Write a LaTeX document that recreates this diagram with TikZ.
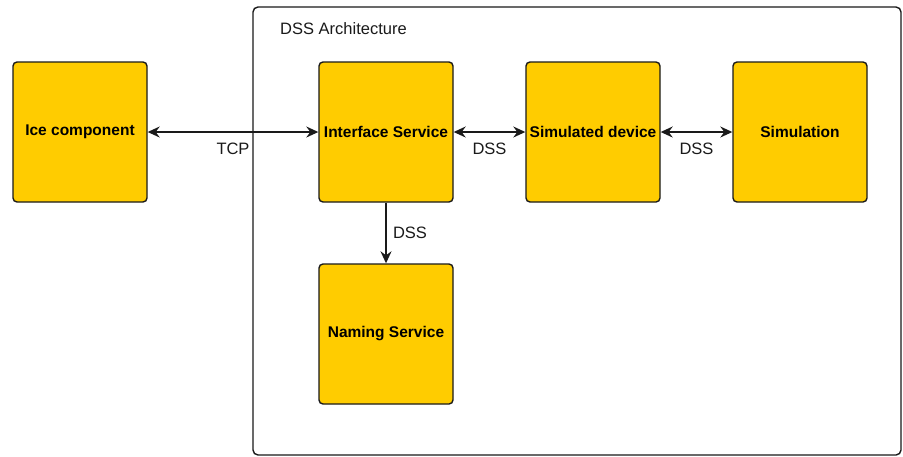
\documentclass[tikz,border=0pt]{standalone}
\usepackage{fontspec}
\setmainfont{Liberation Sans}
\usetikzlibrary{arrows.meta}
\definecolor{boxfill}{HTML}{FFCC00}
\definecolor{edge}{HTML}{1A1A1A}
\begin{document}
\begin{tikzpicture}[x=1pt,y=-1pt,
  comp/.style={draw=edge,line width=1.4pt,fill=boxfill,rounded corners=4pt,minimum width=134pt,minimum height=140pt,inner sep=0pt,font=\fontsize{15.5}{18}\selectfont\bfseries},
  conn/.style={draw=edge,line width=1.4pt,{Stealth[length=12pt,width=11pt,inset=4pt]}-{Stealth[length=12pt,width=11pt,inset=4pt]}},
  oneway/.style={draw=edge,line width=1.4pt,-{Stealth[length=12pt,width=11pt,inset=4pt]}},
  lbl/.style={font=\fontsize{16.5}{19}\selectfont,inner sep=0pt,text=edge}]
\useasboundingbox (0,0) rectangle (903,456);
\fill[white] (0,0) rectangle (903,456);
\node[draw=edge,line width=1.4pt,rounded corners=5pt,minimum width=648pt,minimum height=448pt,inner sep=0pt] (arch) at (577,231) {};
\node[lbl,anchor=west] (title) at (280,28.5) {DSS Architecture};
\node[comp] (ice) at (80,132) {\raisebox{-1pt}{Ice component}};
\node[comp] (iface) at (386,132) {Interface Service};
\node[comp] (simdev) at (593,132) {Simulated device};
\node[comp] (sim) at (800,132) {Simulation};
\node[comp] (naming) at (386,334) {Naming Service};
\draw[conn] (ice) -- (iface) node[lbl,pos=0.5,yshift=-17pt] (tcp) {TCP};
\draw[conn] (iface) -- (simdev) node[lbl,pos=0.5,yshift=-17pt] (dss1) {DSS};
\draw[conn] (simdev) -- (sim) node[lbl,pos=0.5,yshift=-17pt] (dss2) {DSS};
\draw[oneway] (iface) -- (naming) node[lbl,pos=0.5,xshift=24pt] (dss3) {DSS};
\end{tikzpicture}
\end{document}
